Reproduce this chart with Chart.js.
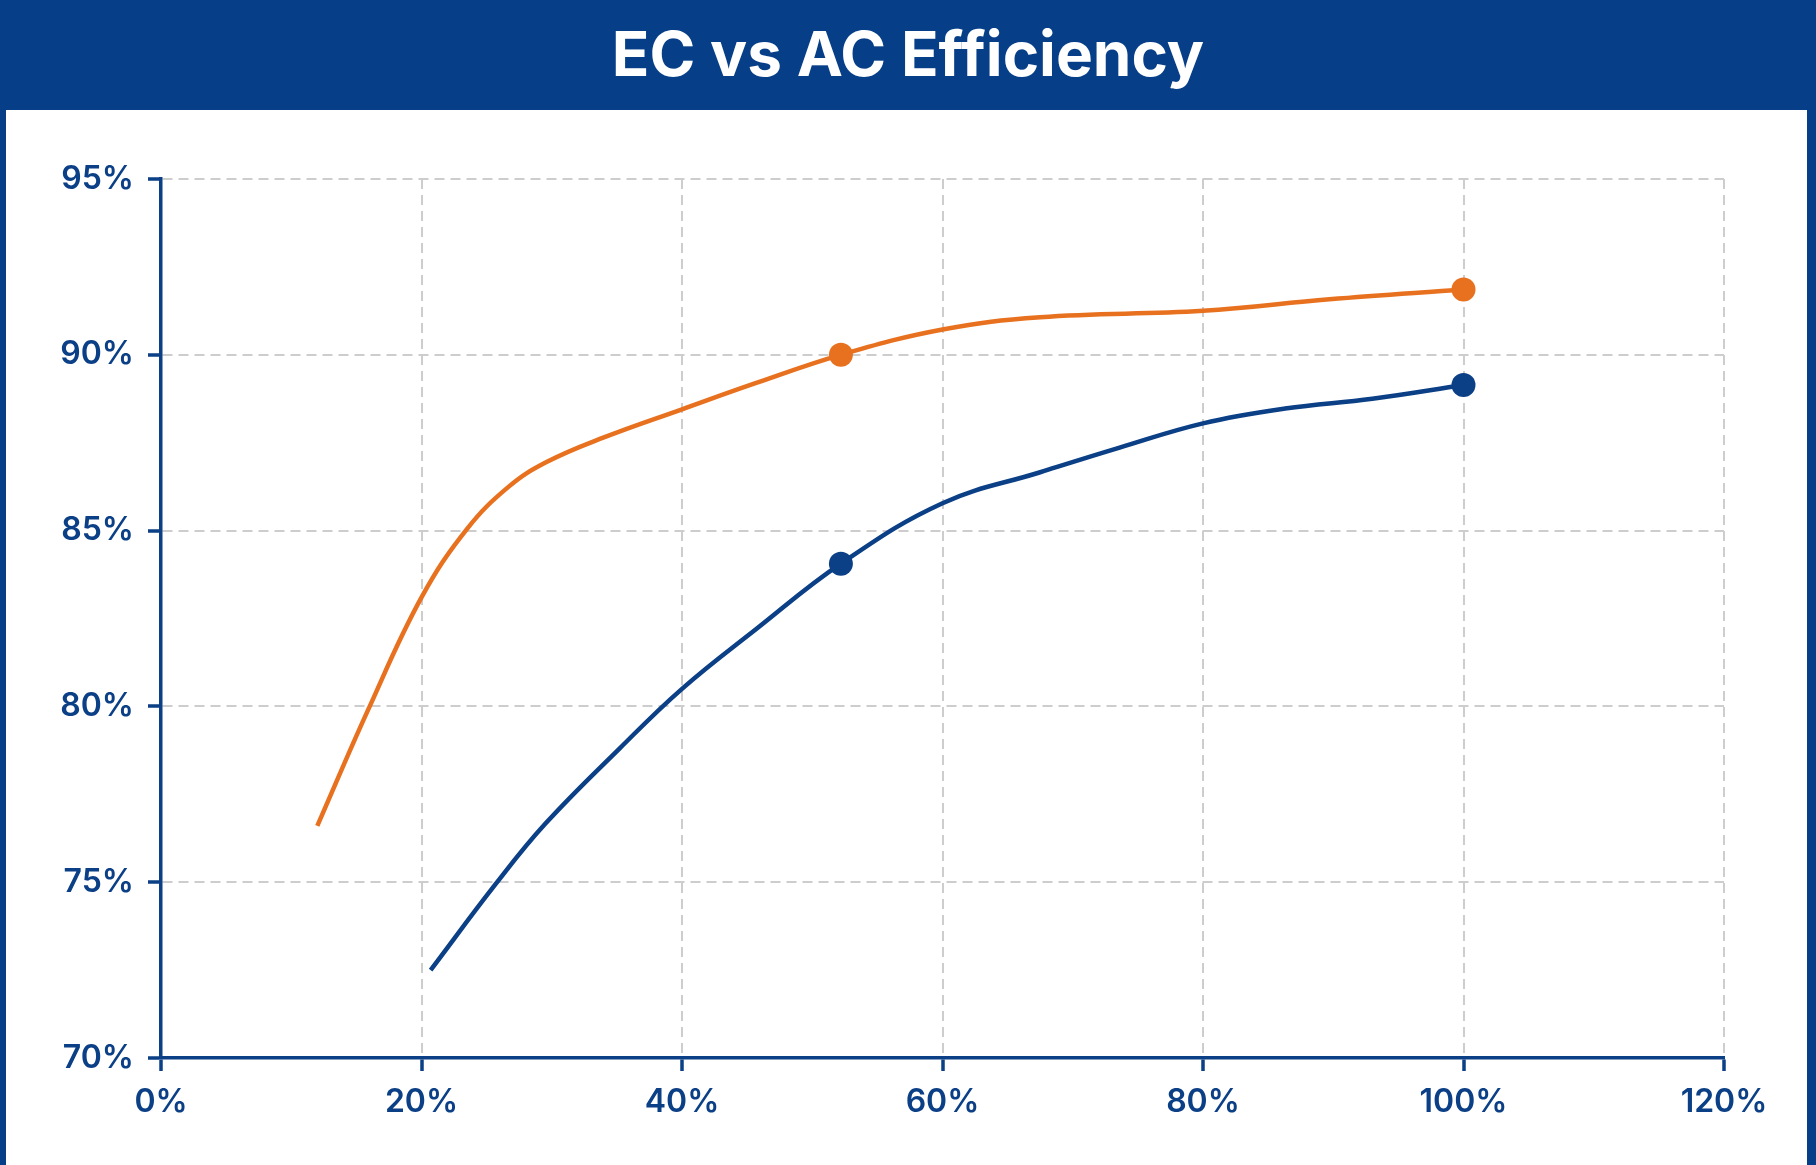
<!DOCTYPE html>
<html>
<head>
<meta charset="utf-8">
<title>EC vs AC Efficiency</title>
<script src="https://cdn.jsdelivr.net/npm/chart.js@4"></script>
<style>
  html, body { margin: 0; padding: 0; background: #fff; }
  body { width: 1816px; height: 1165px; position: relative; overflow: hidden; }
  #header {
    position: absolute; left: 0; top: 0; width: 1816px; height: 110px;
    background: #063f88; color: #fff; text-align: center;
    font: 700 62px Inter, sans-serif; line-height: 108px;
  }
  #frame {
    position: absolute; left: 0; top: 110px; width: 1816px; height: 1055px;
    box-sizing: border-box; border-left: 6px solid #063f88; border-right: 9px solid #063f88;
  }
  #wrap { position: absolute; left: 6px; top: 110px; width: 1800px; height: 1055px; }
</style>
</head>
<body>
<div id="header">EC vs AC Efficiency</div>
<div id="frame"></div>
<div id="wrap"><canvas id="effChart"></canvas></div>

<script>
// load (%) and efficiency (%)
const ecLoad = [12, 15.9, 20, 23.5, 26.7, 29.6, 34, 40, 45.7, 52.2, 60, 67.5, 80, 89.7, 100];
const ecEff  = [76.6, 79.9, 83.1, 85.05, 86.25, 86.95, 87.65, 88.45, 89.2, 90.0, 90.72, 91.07, 91.25, 91.58, 91.86];

const acLoad = [20.7, 25.7, 29.5, 35.2, 40, 45.7, 52.2, 60, 67.5, 73.6, 80, 86.3, 93, 100];
const acEff  = [72.5, 74.95, 76.66, 78.8, 80.5, 82.2, 84.06, 85.78, 86.66, 87.36, 88.05, 88.47, 88.75, 89.14];

// loads where a dot is drawn
const markerLoads = [52.2, 100];

const xTicks = [0, 20, 40, 60, 80, 100, 120];
const yTicks = [70, 75, 80, 85, 90, 95];

document.addEventListener('DOMContentLoaded', function () {
  const ctx = document.getElementById('effChart').getContext('2d');
  const navy = '#0b3f86';
  const orange = '#e8711f';

  const toPoints = (xs, ys) => xs.map((x, i) => ({ x, y: ys[i] }));
  const radii = (xs) => xs.map(x => markerLoads.includes(x) ? 12 : 0);

  const tickFont = { family: 'Inter, sans-serif', size: 32, weight: '600' };

  const axisCommon = {
    type: 'linear',
    grid: {
      color: '#cdcdcd',
      lineWidth: 2,
      tickColor: navy,
      tickWidth: 3.5,
      tickLength: 13,
      tickBorderDash: []
    },
    border: { display: true, color: navy, width: 3.5, dash: [10, 6] },
    ticks: { color: navy, font: tickFont, padding: 12 }
  };

  new Chart(ctx, {
    type: 'line',
    data: {
      datasets: [
        {
          label: 'EC',
          data: toPoints(ecLoad, ecEff),
          borderColor: orange,
          backgroundColor: orange,
          borderWidth: 4.5,
          pointRadius: radii(ecLoad),
          pointBorderWidth: 0,
          tension: 0.4
        },
        {
          label: 'AC',
          data: toPoints(acLoad, acEff),
          borderColor: navy,
          backgroundColor: navy,
          borderWidth: 4.5,
          pointRadius: radii(acLoad),
          pointBorderWidth: 0,
          tension: 0.4
        }
      ]
    },
    options: {
      responsive: true,
      maintainAspectRatio: false,
      animation: false,
      layout: { padding: { top: 69, right: 82, left: 0, bottom: 0 } },
      plugins: {
        legend: { display: false },
        tooltip: { enabled: false }
      },
      scales: {
        x: {
          ...axisCommon,
          min: xTicks[0],
          max: xTicks[xTicks.length - 1],
          afterBuildTicks: (scale) => { scale.ticks = xTicks.map(v => ({ value: v })); },
          afterFit: (scale) => { scale.height = 107; },
          ticks: { ...axisCommon.ticks, callback: (v) => v + '%' }
        },
        y: {
          ...axisCommon,
          min: yTicks[0],
          max: yTicks[yTicks.length - 1],
          afterBuildTicks: (scale) => { scale.ticks = yTicks.map(v => ({ value: v })); },
          afterFit: (scale) => { scale.width = 155; },
          ticks: { ...axisCommon.ticks, padding: 14, callback: (v) => v + '%' }
        }
      }
    }
  });
});
</script>
</body>
</html>
